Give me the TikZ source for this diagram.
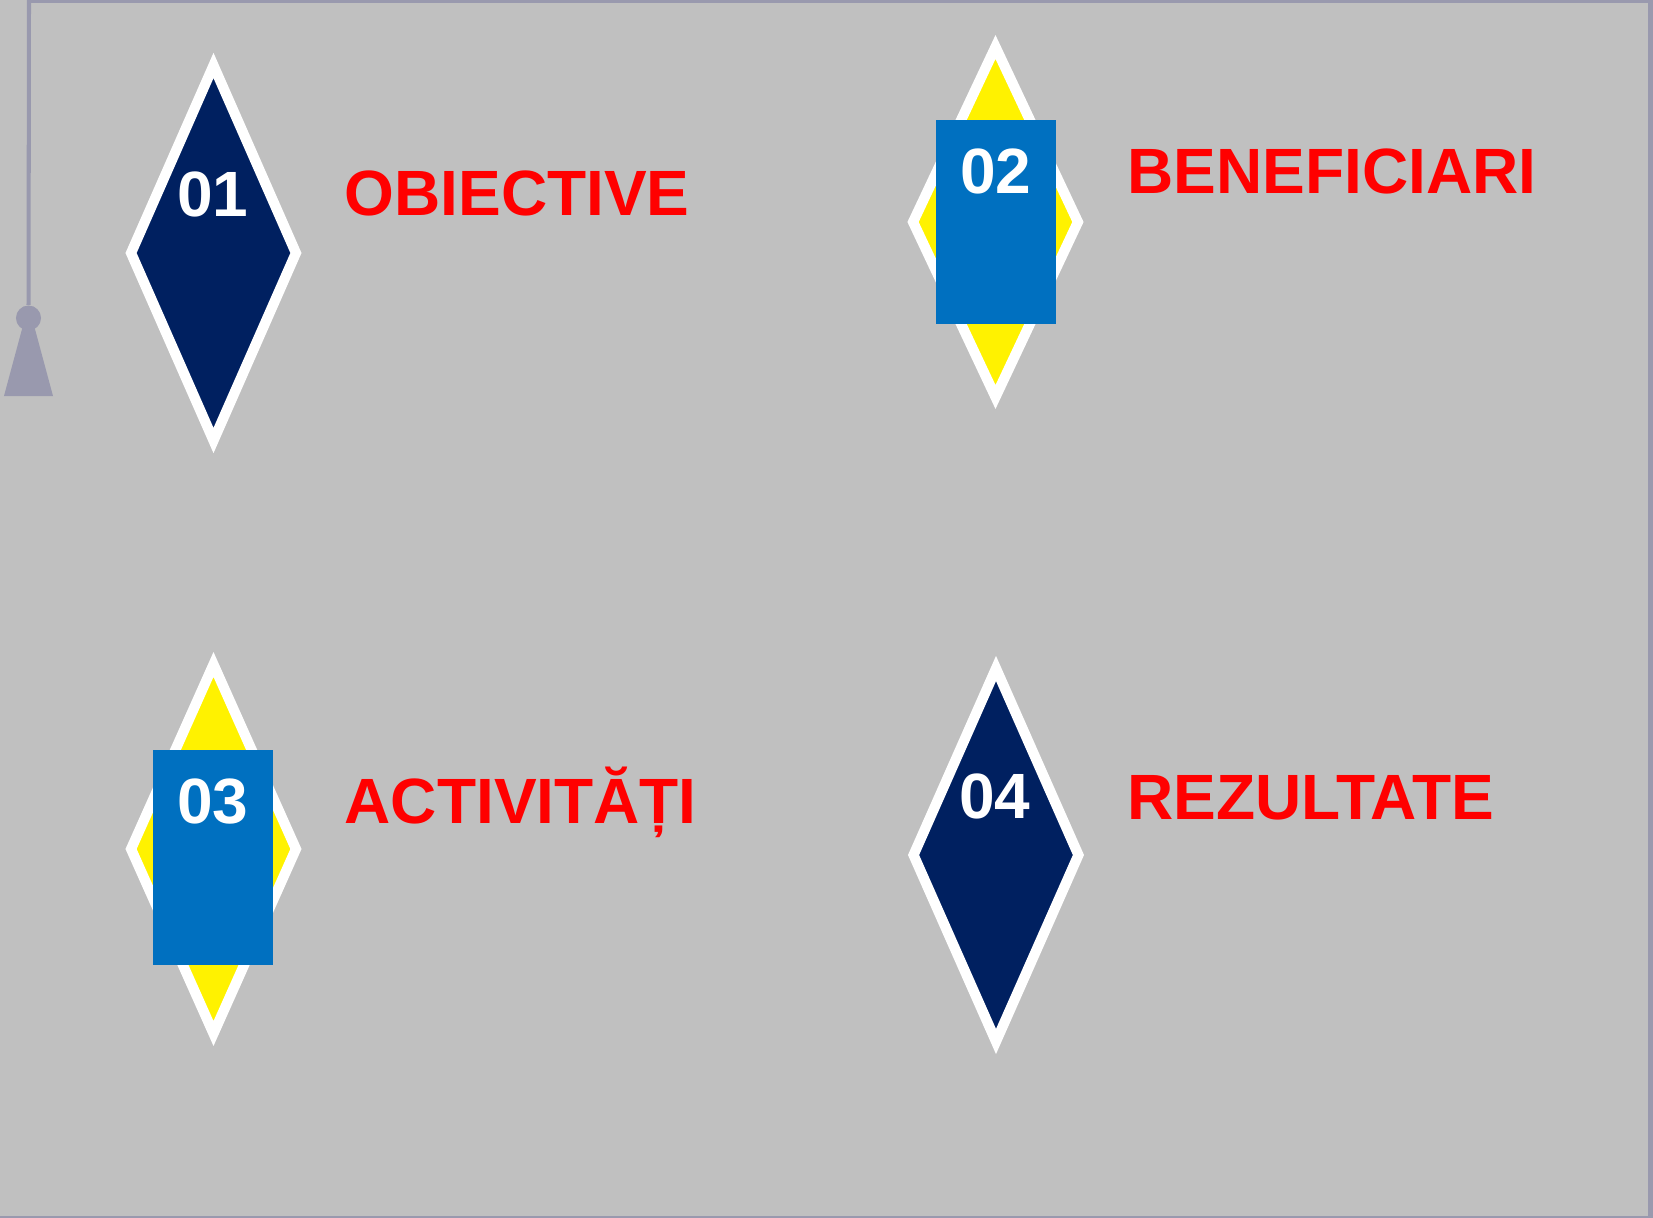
\documentclass[tikz,border=0pt]{standalone}
\usepackage{fontspec}
\setmainfont{Liberation Sans}
\usetikzlibrary{shapes.geometric, positioning}

\definecolor{slidegray}{RGB}{192,192,192}
\definecolor{tasselgray}{RGB}{153,153,174}
\definecolor{navy}{RGB}{0,32,96}
\definecolor{tagblue}{RGB}{0,112,192}

\begin{document}
\begin{tikzpicture}[
        x=0.01cm, y=-0.01cm,
        gem/.style = {
            diamond,
            draw=white,
            line width=2.9pt,
            inner sep=0pt,
            minimum width=1.69cm
        },
        tag/.style = {
            fill=tagblue,
            inner sep=0pt,
            minimum width=1.2cm
        },
        num/.style = {
            text=white,
            font=\fontsize{18.2}{20}\selectfont\bfseries,
            anchor=base,
            inner sep=0pt
        },
        title/.style = {
            text=red,
            font=\fontsize{18.2}{20}\selectfont\bfseries,
            anchor=base west,
            inner sep=0pt
        }]
        \fill[slidegray] (0,0) rectangle (1653,1218);
        \useasboundingbox (0,0) rectangle (1653,1218);
        % frame
        \fill[tasselgray] (27,0) rectangle (1653,3);
        \fill[tasselgray] (1648,0) rectangle (1653,1218);
        \fill[tasselgray] (0,1215.5) rectangle (1653,1218);
        % tassel
        \fill[tasselgray] (4,396) -- (53,396) -- (32,318) -- (25,318) -- cycle;
        \node[circle, fill=tasselgray, inner sep=0pt, minimum size=0.25cm] (knob) at (28.5,318) {};
        \coordinate (hook) at (29,0);
        \draw[tasselgray, line width=1.15pt] (hook) -- (knob);
        % diamonds
        \node[gem, fill=navy, minimum height=3.79cm] (d1) at (213.5,253) {};
        \node[gem, fill=yellow, minimum height=3.54cm] (d2) at (995.5,222) {};
        \node[tag, minimum height=2.04cm] (t2) at (996,222) {};
        \node[gem, fill=yellow, minimum height=3.73cm] (d3) at (213.5,849) {};
        \node[tag, minimum height=2.15cm] (t3) at (213,857.5) {};
        \node[gem, fill=navy, minimum height=3.77cm] (d4) at (996,855) {};
        % numbers
        \node[num] (n1) at (213,216) {01};
        \node[num] (n2) at (996,193) {02};
        \node[num] (n3) at (213,823) {03};
        \node[num] (n4) at (995,818) {04};
        % titles
        \node[title] (obiective) at (344,215.5) {OBIECTIVE};
        \node[title] (beneficiari) at (1127,193) {BENEFICIARI};
        \node[title] (activitati) at (344,823) {ACTIVITĂȚI};
        \node[title] (rezultate) at (1127,819) {REZULTATE};
\end{tikzpicture}
\end{document}
